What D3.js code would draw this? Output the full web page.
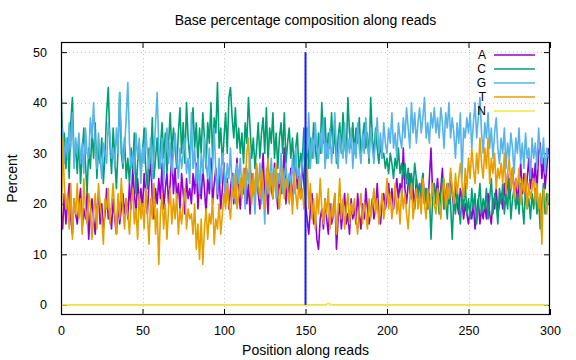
<!DOCTYPE html>
<html>
<head>
<meta charset="utf-8">
<script src="https://cdn.jsdelivr.net/npm/d3@7"></script>
<style>
  html, body { margin: 0; padding: 0; background: #fff; }
  svg { display: block; font-family: "Liberation Sans", Arial, sans-serif; }
</style>
</head>
<body>
<svg id="chart" width="576" height="360"></svg>
<script>
// ---- data ----
const title = "Base percentage composition along reads";
const xLabel = "Position along reads";
const yLabel = "Percent";
const seriesNames = ["A", "C", "G", "T", "N"];
const seriesColors = ["#9400d3", "#009e73", "#56b4e9", "#e69f00", "#f0e442"];
const xTicks = [0, 50, 100, 150, 200, 250, 300];
const yTicks = [0, 10, 20, 30, 40, 50];
const readBoundary = 150;

const A = [
 19,15,22,16,20,24,17,14,21,18, 16,20,23,15,19,17,22,13,18,21,
 17,14,19,22,16,20,15,18,23,17, 19,15,21,17,14,20,16,19,22,18,
 21,17,24,19,27,22,18,25,20,23, 19,26,22,18,24,29,21,17,23,20,
 25,21,28,19,23,26,20,24,30,22, 27,21,24,19,26,22,18,25,21,23,
 20,26,22,28,19,24,21,27,23,18, 25,22,29,20,24,27,21,26,19,23,
 28,21,25,19,23,26,20,24,29,22, 19,25,22,27,20,24,18,26,23,21,
 27,22,19,25,30,21,24,18,26,23, 21,28,23,19,26,22,25,31,20,24,
 22,27,20,25,29,23,26,21,28,24,
 20,17,14,19,22,16,18,13,11,17, 19,15,21,17,14,20,16,18,22,11,
 17,20,15,19,22,16,18,14,21,17, 19,16,22,18,15,20,17,23,19,16,
 18,21,17,19,24,18,16,20,22,19, 21,24,20,23,19,22,25,21,24,22,
 31,23,20,24,26,21,23,19,25,22, 24,21,26,20,23,19,25,31,22,24,
 21,25,20,23,27,19,22,24,20,26, 22,19,24,20,18,23,21,17,20,18,
 16,19,17,20,15,18,21,16,19,17, 20,17,22,18,16,21,19,23,18,20,
 22,19,24,20,26,21,23,27,22,25, 20,24,28,22,26,21,25,29,23,27,
 24,28,22,30,32,25,29,23,27,31
];
const C = [
 44,30,34,27,33,25,36,41,29,31, 26,33,24,30,35,28,22,31,27,34,
 29,36,25,31,28,33,24,30,38,43, 32,26,35,29,23,31,42,30,27,33,
 25,29,24,31,27,34,22,28,32,26, 30,35,27,23,31,28,37,25,29,33,
 27,31,36,29,34,26,32,38,30,35, 31,27,34,39,30,36,28,40,33,29,
 34,39,31,36,28,35,30,38,33,27, 36,32,40,29,37,34,44,31,35,28,
 33,38,30,41,43,37,33,39,31,35, 30,34,28,36,32,41,35,29,33,27,
 31,36,29,34,37,30,39,28,35,32, 38,29,34,27,33,36,30,38,28,32,
 35,29,33,27,31,34,26,30,28,35,
 20,35,27,33,29,36,31,28,34,30, 40,32,37,29,34,31,38,30,35,28,
 33,36,30,38,32,29,41,34,31,36, 30,35,32,37,29,33,36,31,34,28,
 41,33,30,35,31,28,32,29,30,27, 29,26,30,28,25,29,27,31,26,28,
 25,28,24,27,22,26,23,28,25,21, 24,22,26,20,23,19,22,13,21,24,
 20,23,18,22,25,19,21,17,24,20, 13,21,18,23,20,16,22,19,24,18,
 21,17,23,19,22,16,20,24,18,21, 19,23,17,21,25,18,22,20,16,23,
 20,24,18,22,19,25,17,21,23,19, 22,18,24,20,16,23,19,21,17,22,
 19,23,18,21,15,20,24,18,22,20
];
const G = [
 30,35,28,33,29,36,31,38,27,33, 30,34,28,32,26,35,30,29,37,33,
 40,31,27,34,29,25,32,30,28,36, 33,29,31,27,35,30,42,33,28,31,
 37,44,32,27,30,26,34,29,33,24, 31,28,35,30,27,33,25,29,36,42,
 31,27,33,24,30,35,28,32,26,30, 34,29,25,31,27,30,33,26,29,24,
 38,27,31,24,29,22,30,26,33,28, 25,31,23,27,35,26,22,29,24,30,
 27,21,28,25,31,23,26,20,28,24, 29,22,26,19,27,24,30,21,25,18,
 26,23,28,20,24,16,27,22,25,29, 23,27,21,26,24,30,22,25,28,23,
 26,24,29,22,31,25,27,23,28,30,
 35,30,38,27,33,29,36,31,28,34, 30,37,27,32,29,35,28,33,38,30,
 27,34,31,29,36,28,33,30,35,27, 32,29,36,31,28,34,30,37,32,29,
 35,31,28,33,37,30,34,29,36,32, 30,35,32,38,31,34,29,36,33,31,
 37,33,39,35,31,40,34,38,32,36, 39,34,37,41,33,36,32,38,35,39,
 34,37,33,39,36,31,38,35,40,33, 37,34,29,36,32,38,25,35,33,37,
 34,38,31,36,40,33,37,41,34,30, 36,33,38,31,35,29,34,37,31,28,
 33,30,35,27,32,29,34,31,26,33, 30,35,28,32,27,34,29,31,25,33,
 29,32,27,35,30,28,33,26,31,29
];
const T = [
 10,33,24,19,22,15,24,13,21,18, 24,17,21,14,25,19,16,22,20,13,
 18,22,15,24,20,17,12,21,19,23, 16,20,24,18,14,22,17,25,19,15,
 21,18,14,20,23,16,19,13,22,17, 20,15,23,18,12,21,17,24,14,19,
  8,18,22,15,20,13,19,23,16,21, 17,22,14,19,16,20,23,15,19,17,
 18,14,20,11,16, 9,17, 8,15,19, 13,18,16,21,12,17,15,20,14,18,
 22,19,24,20,17,23,21,26,19,22, 25,21,27,23,30,33,24,20,26,22,
 28,24,21,27,23,19,25,29,22,26, 21,25,28,22,19,24,27,21,25,23,
 20,24,18,26,22,19,25,21,23,19,
 22,28,19,24,17,21,15,22,18,25, 19,16,21,18,23,15,20,17,22,14,
 19,25,17,21,15,19,22,16,20,18, 21,17,14,19,22,16,20,18,15,21,
 17,20,23,18,21,16,19,22,17,20, 25,19,22,17,20,24,18,21,16,23,
 19,22,18,15,21,24,17,20,23,19, 22,18,25,20,17,23,19,21,24,20,
 18,23,20,17,22,25,19,24,21,27, 23,20,26,22,25,28,24,21,27,23,
 29,25,31,27,24,30,26,33,28,25, 31,27,33,24,29,26,30,23,27,25,
 28,24,30,22,26,29,23,27,21,25, 23,27,20,25,22,26,19,24,21,23,
 25,20,24,19,22,12,23,21,18,22
];
const N = [
 0,0,0,0,0,0,0,0,0,0, 0,0,0,0,0,0,0,0,0,0, 0,0,0,0,0,0,0,0,0,0,
 0,0,0,0,0,0,0,0,0,0, 0,0,0,0,0,0,0,0,0,0, 0,0,0,0,0,0,0,0,0,0,
 0,0,0,0,0,0,0,0,0,0, 0,0,0,0,0,0,0,0,0,0, 0,0,0,0,0,0,0,0,0,0,
 0,0,0,0,0,0,0,0,0,0, 0,0,0,0,0,0,0,0,0,0, 0,0,0,0,0,0,0,0,0,0,
 0,0,0,0,0,0,0,0,0,0, 0,0,0,0,0,0,0,0,0,0, 0,0,0,0,0,0,0,0,0,0,
 0,0,0,0,0,0,0,0,0,0, 0,0,0,0.1,0.3,0.2,0,0,0,0, 0,0,0,0,0,0,0,0,0,0,
 0,0,0,0,0,0,0,0,0,0, 0,0,0,0,0,0,0,0,0,0, 0,0,0,0,0,0,0,0,0,0,
 0,0,0,0,0,0,0,0,0,0, 0,0,0,0,0,0,0,0,0,0, 0,0,0,0,0,0,0,0,0,0,
 0,0,0,0,0,0,0,0,0,0, 0,0,0,0,0,0,0,0,0,0, 0,0,0,0,0,0,0,0,0,0,
 0,0,0,0,0,0,0,0,0,0, 0,0,0,0,0,0,0,0,0,0, 0,0,0,0,0,0,0,0,0,0
];
const seriesValues = [A, C, G, T, N];

// ---- layout ----
const W = 576, H = 360;
const plot = { left: 61, right: 550, top: 42, bottom: 315 };
const svg = d3.select("#chart");
svg.append("rect").attr("width", W).attr("height", H).attr("fill", "#fff");

const x = d3.scaleLinear().domain([0, 300]).range([plot.left, plot.right]);
const y = d3.scaleLinear().domain([-2, 52]).range([plot.bottom, plot.top]);

// grid
const grid = svg.append("g").attr("stroke", "#c8c8c8").attr("stroke-width", 1).attr("stroke-dasharray", "1,3");
xTicks.filter(t => t > 0 && t < 300).forEach(t => {
  grid.append("line").attr("x1", Math.round(x(t)) + 0.5).attr("x2", Math.round(x(t)) + 0.5)
    .attr("y1", plot.top).attr("y2", plot.bottom);
});
yTicks.forEach(t => {
  grid.append("line").attr("y1", Math.round(y(t)) + 0.5).attr("y2", Math.round(y(t)) + 0.5)
    .attr("x1", plot.left).attr("x2", plot.right);
});

// axes (inward ticks, mirrored)
const tickLen = 6;
const fontSize = 12.5;
const axB = d3.axisBottom(x).tickValues(xTicks).tickSize(-tickLen).tickPadding(tickLen + 5);
const axT = d3.axisTop(x).tickValues(xTicks).tickSize(-tickLen).tickFormat("");
const axL = d3.axisLeft(y).tickValues(yTicks).tickSize(-tickLen).tickPadding(tickLen + 8);
const axR = d3.axisRight(y).tickValues(yTicks).tickSize(-tickLen).tickFormat("");
function styleAxis(g) {
  g.select(".domain").remove();
  g.selectAll(".tick line").attr("stroke", "#000").attr("stroke-width", 1);
  g.selectAll("text").attr("font-size", fontSize).attr("fill", "#000")
    .attr("font-family", "'Liberation Sans', Arial, sans-serif");
}
svg.append("g").attr("transform", `translate(0,${plot.bottom})`).call(axB).call(styleAxis);
svg.append("g").attr("transform", `translate(0,${plot.top})`).call(axT).call(styleAxis);
svg.append("g").attr("transform", `translate(${plot.left},0)`).call(axL).call(styleAxis);
svg.append("g").attr("transform", `translate(${plot.right},0)`).call(axR).call(styleAxis);

// clip
svg.append("clipPath").attr("id", "clip").append("rect")
  .attr("x", plot.left).attr("y", plot.top).attr("width", plot.right - plot.left).attr("height", plot.bottom - plot.top);

// lines
const line = d3.line().x((d, i) => x(i)).y(d => y(d));
const linesG = svg.append("g").attr("clip-path", "url(#clip)");
seriesValues.forEach((vals, k) => {
  linesG.append("path").datum(vals).attr("d", line).attr("fill", "none")
    .attr("stroke", seriesColors[k]).attr("stroke-width", 1.6).attr("stroke-linejoin", "round");
});

// read boundary
svg.append("line").attr("x1", x(readBoundary)).attr("x2", x(readBoundary))
  .attr("y1", y(0)).attr("y2", y(50)).attr("stroke", "#1a1aff").attr("stroke-width", 2);

// border
svg.append("rect").attr("x", plot.left + 0.5).attr("y", plot.top + 0.5)
  .attr("width", plot.right - plot.left - 1).attr("height", plot.bottom - plot.top - 1)
  .attr("fill", "none").attr("stroke", "#000").attr("stroke-width", 1.2);

// legend
const legend = svg.append("g");
seriesNames.forEach((nm, k) => {
  const ly = 55 + k * 14;
  legend.append("text").attr("x", 486).attr("y", ly).attr("dy", "0.36em")
    .attr("text-anchor", "end").attr("font-size", 12).text(nm);
  legend.append("line").attr("x1", 494).attr("x2", 535).attr("y1", ly).attr("y2", ly)
    .attr("stroke", seriesColors[k]).attr("stroke-width", 1.6);
});

// titles
svg.append("text").attr("x", (plot.left + plot.right) / 2).attr("y", 25)
  .attr("text-anchor", "middle").attr("font-size", 14).text(title);
svg.append("text").attr("x", (plot.left + plot.right) / 2).attr("y", 355)
  .attr("text-anchor", "middle").attr("font-size", 14).text(xLabel);
svg.append("text").attr("transform", `translate(17,${(plot.top + plot.bottom) / 2}) rotate(-90)`)
  .attr("text-anchor", "middle").attr("font-size", 14).text(yLabel);
</script>
</body>
</html>
